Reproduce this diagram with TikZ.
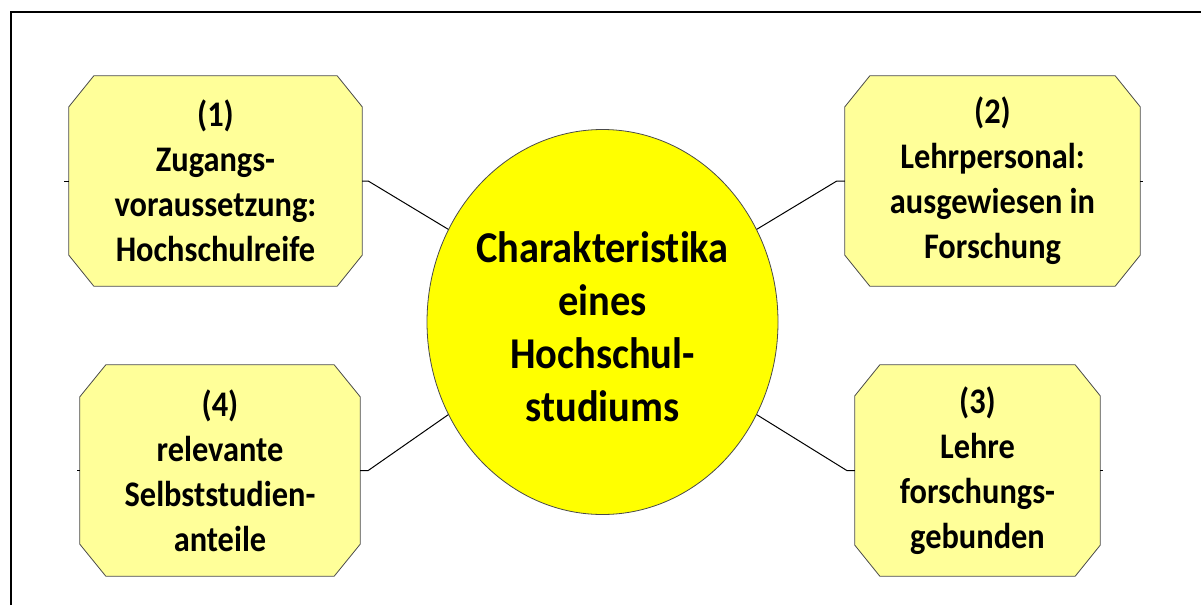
\documentclass[tikz,border=0pt]{standalone}
\usepackage{fontspec}
\setmainfont{Carlito}
\newfontfamily\boxfont{Carlito}[FakeStretch=0.9,Ligatures={NoCommon}]
\newfontfamily\ellfont{Carlito}[FakeStretch=0.92,Ligatures={NoCommon}]
\usetikzlibrary{shapes.geometric,backgrounds}
\definecolor{boxfill}{HTML}{FFFF99}
\definecolor{ellfill}{HTML}{FFFF00}
\definecolor{edgegray}{HTML}{4A4A4A}
\tikzset{
  featbox/.style={rectangle, draw=none, inner sep=0pt, align=center,
    font=\boxfont\bfseries\fontsize{36}{45}\selectfont},
  octo/.style={draw=edgegray, line width=0.8pt, fill=boxfill, line join=miter},
  centre/.style={ellipse, draw=edgegray, line width=0.8pt, fill=ellfill, inner sep=0pt,
    minimum width=351pt, minimum height=385pt},
  centretext/.style={inner sep=0pt, align=center,
    font=\ellfont\bfseries\fontsize{44}{53}\selectfont},
  link/.style={draw=black, line width=1pt},
  frameline/.style={draw=black, line width=1.6pt}
}
\newcommand\octoshape[3]{% name, xcut, ycut
  \path[octo] ([xshift=#2]#1.north west) -- ([xshift=-#2]#1.north east)
    -- ([yshift=-#3]#1.north east) -- ([yshift=#3]#1.south east)
    -- ([xshift=-#2]#1.south east) -- ([xshift=#2]#1.south west)
    -- ([yshift=#3]#1.south west) -- ([yshift=-#3]#1.north west) -- cycle;}
\begin{document}
\begin{tikzpicture}[x=1pt,y=-1pt]
\useasboundingbox (0,0) rectangle (1201,605);
\draw[frameline] (11,605) -- (11,12) -- (1201,12);
\node[centre] (e) at (602.5,322) {};
\node[centretext] (et) at (602.5,327) {Charakteristika\\eines\\Hochschul-\\studiums};
\node[featbox, minimum width=293pt, minimum height=210pt] (b1) at (215.5,181) {(1)\\Zugangs-\\voraussetzung:\\Hochschulreife};
\node[featbox, minimum width=295pt, minimum height=210pt] (b2) at (992.5,181) {(2)\\Lehrpersonal:\\ausgewiesen in\\Forschung};
\node[featbox, minimum width=245pt, minimum height=211pt] (b3) at (977.5,470.5) {(3)\\Lehre\\forschungs-\\gebunden};
\node[featbox, minimum width=280pt, minimum height=211pt] (b4) at (220,470.5) {(4)\\relevante\\Selbststudien-\\anteile};
\begin{scope}[on background layer]
\octoshape{b1}{25pt}{31pt}
\octoshape{b2}{25pt}{31pt}
\octoshape{b3}{25pt}{31pt}
\octoshape{b4}{26pt}{32pt}
\end{scope}
\draw[link] (b1.east) -- ++(6,0) -- (e.149);
\draw[link] (b2.west) -- ++(-8,0) -- (e.31);
\draw[link] (b4.east) -- ++(8,0) -- (e.211);
\draw[link] (b3.west) -- ++(-8,0) -- (e.329);
\draw[link] (b1.west) -- ++(-5,0);
\draw[link] (b2.east) -- ++(3,0);
\draw[link] (b4.west) -- ++(-3,0);
\draw[link] (b3.east) -- ++(3,0);
\end{tikzpicture}
\end{document}
